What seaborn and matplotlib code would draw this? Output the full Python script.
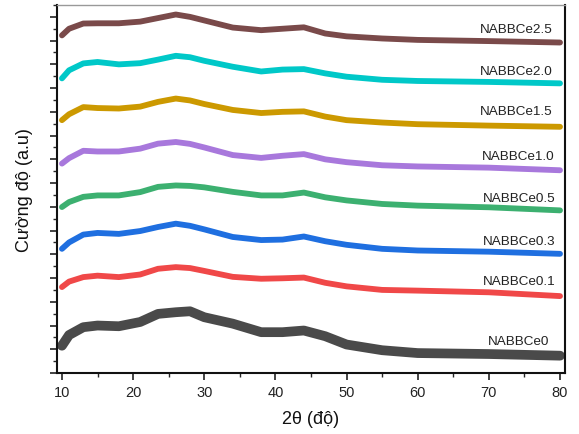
import seaborn as sns
import pandas as pd
import matplotlib.pyplot as plt
from matplotlib.ticker import MultipleLocator

# góc 2θ (độ)
two_theta = [10, 11, 13, 15, 18, 21, 23.5, 26, 28, 30, 34, 38, 41, 44, 47, 50, 55, 60, 70, 80]

# cường độ (đã dịch lên theo mẫu)
ce0 = [1.15, 1.6, 1.93, 2.0, 1.97, 2.15, 2.49, 2.56, 2.6, 2.35, 2.08, 1.72, 1.72, 1.79, 1.55, 1.2, 0.96, 0.84, 0.8, 0.73]
ce01 = [3.62, 3.85, 4.04, 4.1, 4.04, 4.15, 4.39, 4.46, 4.42, 4.3, 4.05, 3.97, 3.99, 4.02, 3.8, 3.65, 3.5, 3.47, 3.4, 3.24]
ce03 = [5.23, 5.5, 5.83, 5.9, 5.86, 5.98, 6.15, 6.29, 6.2, 6.05, 5.73, 5.6, 5.62, 5.75, 5.55, 5.4, 5.23, 5.16, 5.11, 5.02]
ce05 = [6.99, 7.2, 7.42, 7.48, 7.48, 7.62, 7.84, 7.9, 7.88, 7.82, 7.63, 7.48, 7.48, 7.6, 7.4, 7.27, 7.12, 7.05, 6.98, 6.85]
ce10 = [8.82, 9.05, 9.36, 9.33, 9.33, 9.45, 9.66, 9.73, 9.65, 9.5, 9.18, 9.06, 9.15, 9.22, 9.0, 8.88, 8.75, 8.7, 8.65, 8.54]
ce15 = [10.65, 10.9, 11.2, 11.16, 11.14, 11.22, 11.42, 11.56, 11.48, 11.33, 11.08, 10.95, 11.0, 11.02, 10.8, 10.65, 10.55, 10.48, 10.42, 10.37]
ce20 = [12.41, 12.75, 13.04, 13.1, 13.0, 13.05, 13.2, 13.36, 13.3, 13.15, 12.9, 12.7, 12.78, 12.8, 12.62, 12.48, 12.35, 12.3, 12.26, 12.2]
ce25 = [14.22, 14.5, 14.72, 14.73, 14.73, 14.8, 14.95, 15.1, 15.0, 14.85, 14.55, 14.44, 14.5, 14.56, 14.3, 14.18, 14.09, 14.03, 13.98, 13.92]

samples = ["NABBCe0", "NABBCe0.1", "NABBCe0.3", "NABBCe0.5", "NABBCe1.0", "NABBCe1.5", "NABBCe2.0", "NABBCe2.5"]
series = [ce0, ce01, ce03, ce05, ce10, ce15, ce20, ce25]
colors = ["#4a4a4a", "#f04848", "#1f6fe0", "#3cb070", "#a878dc", "#cc9900", "#00c8c8", "#7a4a4a"]

# vị trí nhãn
label_x = [69.8, 69.1, 69.1, 69.1, 69.0, 68.8, 68.8, 68.8]
label_y = [1.35, 3.88, 5.57, 7.38, 9.16, 11.05, 12.74, 14.47]

rows = []
for name, vals in zip(samples, series):
    for t, v in zip(two_theta, vals):
        rows.append({"2theta": t, "I": v, "mau": name})
df = pd.DataFrame(rows)

sns.set_style("ticks")
plt.rcParams['font.family'] = ['Liberation Sans', 'DejaVu Sans']

fig = plt.figure(figsize=(5.79, 4.35), dpi=100)
ax = fig.add_axes([0.0984, 0.1402, 0.8774, 0.846])

sns.lineplot(data=df, x="2theta", y="I", hue="mau", palette=colors,
             hue_order=samples, linewidth=4.2, legend=False, ax=ax)
# mẫu gốc dày hơn
ax.lines[0].set_linewidth(7)
for ln in ax.lines:
    ln.set_solid_joinstyle("round")

for name, lx, ly in zip(samples, label_x, label_y):
    ax.text(lx, ly, name, fontsize=9.7, color="#222222", va="center", ha="left")

ax.set_xlim(9.3, 80.7)
ax.set_ylim(0, 15.5)
ax.xaxis.set_major_locator(MultipleLocator(10))
ax.xaxis.set_minor_locator(MultipleLocator(5))
ax.yaxis.set_major_locator(MultipleLocator(1))
ax.yaxis.set_minor_locator(MultipleLocator(0.5))
ax.set_yticklabels([])
ax.tick_params(which="major", length=5, width=1.2, labelsize=10.5, colors="#222222")
ax.tick_params(which="minor", length=3, width=1.0)

for s in ["left", "bottom", "right"]:
    ax.spines[s].set_color("#111111")
    ax.spines[s].set_linewidth(1.5)
ax.spines["top"].set_color("#999999")
ax.spines["top"].set_linewidth(1.0)

ax.set_xlabel("2θ (độ)", fontsize=13, color="#111111", labelpad=8)
ax.set_ylabel("Cường độ (a.u)", fontsize=13, color="#111111", labelpad=9)

fig.savefig("out.png", dpi=100)
